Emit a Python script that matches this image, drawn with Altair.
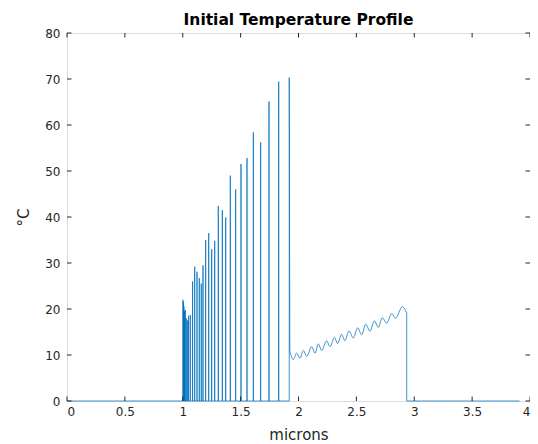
import altair as alt
import pandas as pd

# ---- data ----
spike_x = [1.002, 1.006, 1.010, 1.015, 1.022, 1.030, 1.040, 1.050, 1.065, 1.085,
           1.103, 1.123, 1.143, 1.160, 1.175, 1.198, 1.224, 1.250, 1.276, 1.307,
           1.342, 1.371, 1.411, 1.457, 1.503, 1.555, 1.610, 1.673, 1.745, 1.829, 1.920]
spike_peak = [22.0, 21.5, 20.5, 19.5, 19.8, 18.0, 17.5, 18.5, 18.7, 26.0,
              29.2, 28.1, 26.7, 25.5, 29.5, 35.0, 36.5, 33.0, 34.8, 42.4,
              41.5, 39.9, 49.0, 46.0, 51.5, 52.8, 58.4, 56.2, 65.1, 69.4, 70.3]
wave_x = [1.925, 1.955, 1.984, 2.013, 2.042, 2.071, 2.114, 2.143, 2.171, 2.200,
          2.244, 2.272, 2.310, 2.338, 2.373, 2.400, 2.436, 2.474, 2.511, 2.546,
          2.580, 2.618, 2.655, 2.690, 2.724, 2.762, 2.805, 2.840, 2.897, 2.935]
wave_T = [10.8, 9.0, 10.4, 9.3, 11.0, 9.7, 11.8, 10.4, 12.4, 11.0,
          13.1, 11.8, 13.8, 12.5, 14.5, 13.1, 15.2, 13.7, 15.9, 14.4,
          16.7, 15.2, 17.4, 16.0, 18.1, 16.9, 19.0, 18.0, 20.5, 19.1]
x_first = 0.0
x_last = 3.91
x_ticks = [0, 0.5, 1, 1.5, 2, 2.5, 3, 3.5, 4]
y_ticks = [0, 10, 20, 30, 40, 50, 60, 70, 80]

# ---- build line tables ----
rows = [(x_first, 0.0, "a")]
for i, (xs, p) in enumerate(zip(spike_x, spike_peak)):
    rows.append((xs, 0.0, "a"))
    rows.append((xs, p, "a"))
    if i < len(spike_x) - 1:
        rows.append((xs, 0.0, "a"))
rows.append((wave_x[0], wave_T[0], "a"))
rows.append((wave_x[-1], wave_T[-1], "c"))
rows.append((wave_x[-1], 0.0, "c"))
rows.append((x_last, 0.0, "c"))
seg = pd.DataFrame(rows, columns=["x", "T", "seg"])
seg["idx"] = range(len(seg))
wave = pd.DataFrame({"x": wave_x, "T": wave_T})

W, H = 463, 368
BLUE = "#0072BD"
AX = "#262626"

xs = alt.Scale(domain=[0, 4], nice=False, zero=False)
ys = alt.Scale(domain=[0, 80], nice=False)

x_axis = alt.Axis(values=x_ticks, labelExpr="'' + datum.value", ticks=False, domain=False,
                  grid=False, labelFontSize=12, labelColor=AX, labelPadding=5,
                  title="microns", titleFontSize=15, titleFontWeight="normal",
                  titleColor=AX, titlePadding=10, labelFont="DejaVu Sans", titleFont="DejaVu Sans")
y_axis = alt.Axis(values=y_ticks, ticks=False, domain=False, grid=False,
                  labelFontSize=12, labelColor=AX, labelPadding=7,
                  title="°C", titleFontSize=15, titleFontWeight="normal",
                  titleColor=AX, titlePadding=13, labelFont="DejaVu Sans", titleFont="DejaVu Sans")

line_a = alt.Chart(seg).mark_line(color=BLUE, strokeWidth=1, opacity=0.75).encode(
    x=alt.X("x:Q", scale=xs, axis=x_axis),
    y=alt.Y("T:Q", scale=ys, axis=y_axis),
    detail="seg:N",
    order="idx:Q",
)
line_b = alt.Chart(wave).mark_line(color=BLUE, strokeWidth=1, opacity=0.75,
                                   interpolate="monotone").encode(
    x=alt.X("x:Q", scale=xs),
    y=alt.Y("T:Q", scale=ys),
)

xt = pd.DataFrame({"v": x_ticks})
yt = pd.DataFrame({"v": y_ticks})
tk = 4.5
tick_b = alt.Chart(xt).mark_rule(color=AX, strokeWidth=1).encode(
    x=alt.X("v:Q", scale=xs), y=alt.value(H), y2=alt.value(H - tk))
tick_t = alt.Chart(xt).mark_rule(color=AX, strokeWidth=1).encode(
    x=alt.X("v:Q", scale=xs), y=alt.value(0), y2=alt.value(tk))
tick_l = alt.Chart(yt).mark_rule(color=AX, strokeWidth=1).encode(
    y=alt.Y("v:Q", scale=ys), x=alt.value(0), x2=alt.value(tk))
tick_r = alt.Chart(yt).mark_rule(color=AX, strokeWidth=1).encode(
    y=alt.Y("v:Q", scale=ys), x=alt.value(W), x2=alt.value(W - tk))

chart = alt.layer(line_a, line_b, tick_b, tick_t, tick_l, tick_r).properties(
    width=W, height=H,
    title=alt.TitleParams("Initial Temperature Profile", fontSize=15.5, fontWeight="bold",
                          font="DejaVu Sans", color="black", offset=-1, anchor="middle"),
    autosize=alt.AutoSizeParams(type="none"),
    padding={"left": 59, "top": 25, "right": 0, "bottom": 42},
).configure_view(stroke=AX, strokeWidth=1).configure(background="white")

chart.save("out.html", embed_options={"renderer": "svg", "actions": False})
